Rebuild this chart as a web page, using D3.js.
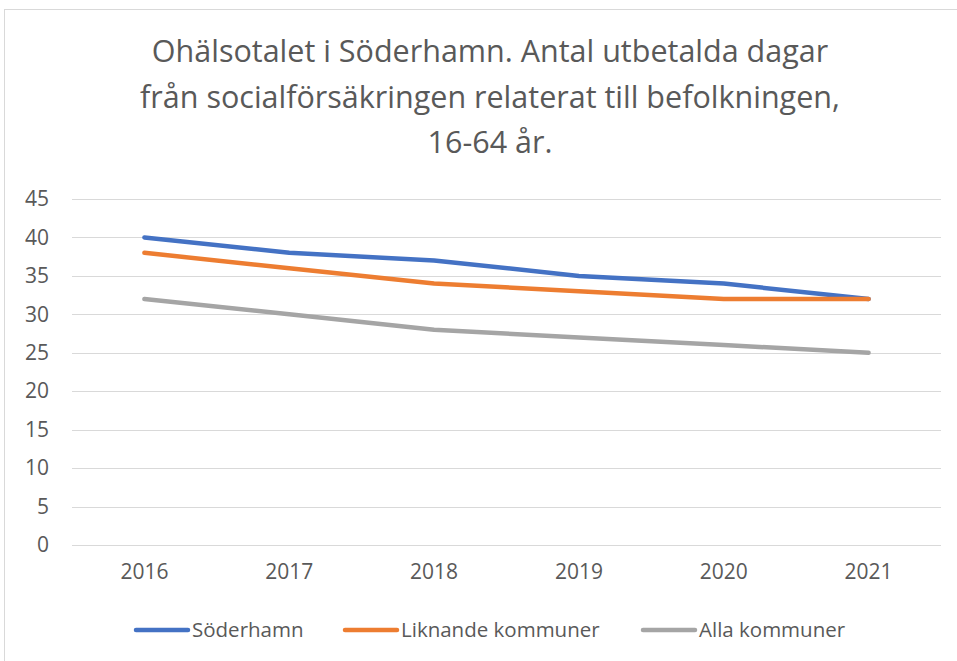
<!DOCTYPE html>
<meta charset="utf-8">
<style>
body { margin: 0; background: #fff; font-family: "Open Sans", sans-serif; }
.grid line { stroke: #d9d9d9; stroke-width: 1; shape-rendering: crispEdges; }
.grid path { display: none; }
.axis text { fill: #595959; font-size: 21px; font-family: "Open Sans", sans-serif; }
.axis path, .axis line { display: none; }
.title { fill: #595959; font-size: 30.5px; text-anchor: middle; }
.legend text { fill: #595959; font-size: 20.5px; }
</style>
<body>
<script src="https://cdn.jsdelivr.net/npm/d3@7"></script>
<script>
// chart data
var years = ["2016", "2017", "2018", "2019", "2020", "2021"];
var soderhamn = [40, 38, 37, 35, 34, 32];
var liknande = [38, 36, 34, 33, 32, 32];
var alla = [32, 30, 28, 27, 26, 25];
var seriesNames = ["Söderhamn", "Liknande kommuner", "Alla kommuner"];
var yTicks = [0, 5, 10, 15, 20, 25, 30, 35, 40, 45];
var titleLines = ["Ohälsotalet i Söderhamn. Antal utbetalda dagar",
                  "från socialförsäkringen relaterat till befolkningen,",
                  "16-64 år."];

var colors = ["#4472C4", "#ED7D31", "#A5A5A5"];
var series = [soderhamn, liknande, alla];

var W = 957, H = 661;
var margin = {top: 199, right: 16, bottom: 116, left: 72};
var width = W - margin.left - margin.right,
    height = H - margin.top - margin.bottom;

var svg = d3.select("body").append("svg")
    .attr("width", W)
    .attr("height", H);

// chart frame
svg.append("rect")
    .attr("x", 4.5).attr("y", 9.5)
    .attr("width", W + 10).attr("height", H + 10)
    .attr("fill", "none")
    .attr("stroke", "#d9d9d9");

svg.selectAll(".title")
    .data(titleLines)
  .enter().append("text")
    .attr("class", "title")
    .attr("x", 490)
    .attr("y", function(d, i) { return 62 + i * 45.5; })
    .text(function(d) { return d; });

var g = svg.append("g")
    .attr("transform", "translate(" + margin.left + "," + margin.top + ")");

var x = d3.scaleBand().domain(years).range([0, width]);
var y = d3.scaleLinear().domain([0, 45]).range([height, 0]);

// gridlines
g.append("g")
    .attr("class", "grid")
    .call(d3.axisLeft(y).tickValues(yTicks).tickSize(-width).tickFormat(""));

// y axis labels
g.append("g")
    .attr("class", "axis")
    .call(d3.axisLeft(y).tickValues(yTicks).tickSize(0).tickPadding(23));

// x axis labels
g.append("g")
    .attr("class", "axis")
    .attr("transform", "translate(0," + height + ")")
    .call(d3.axisBottom(x).tickSize(0).tickPadding(19));

var line = d3.line()
    .x(function(d, i) { return x(years[i]) + x.bandwidth() / 2; })
    .y(function(d) { return y(d); });

series.forEach(function(s, i) {
    g.append("path")
        .datum(s)
        .attr("fill", "none")
        .attr("stroke", colors[i])
        .attr("stroke-width", 4.5)
        .attr("stroke-linecap", "round")
        .attr("stroke-linejoin", "round")
        .attr("d", line);
});

// legend
var legendX = [134, 343, 641];
var leg = svg.append("g").attr("class", "legend");
seriesNames.forEach(function(name, i) {
    leg.append("line")
        .attr("x1", legendX[i] + 2).attr("x2", legendX[i] + 54)
        .attr("y1", 630).attr("y2", 630)
        .attr("stroke", colors[i])
        .attr("stroke-width", 4.5)
        .attr("stroke-linecap", "round");
    leg.append("text")
        .attr("x", legendX[i] + 58)
        .attr("y", 637)
        .text(name);
});
</script>
</body>
